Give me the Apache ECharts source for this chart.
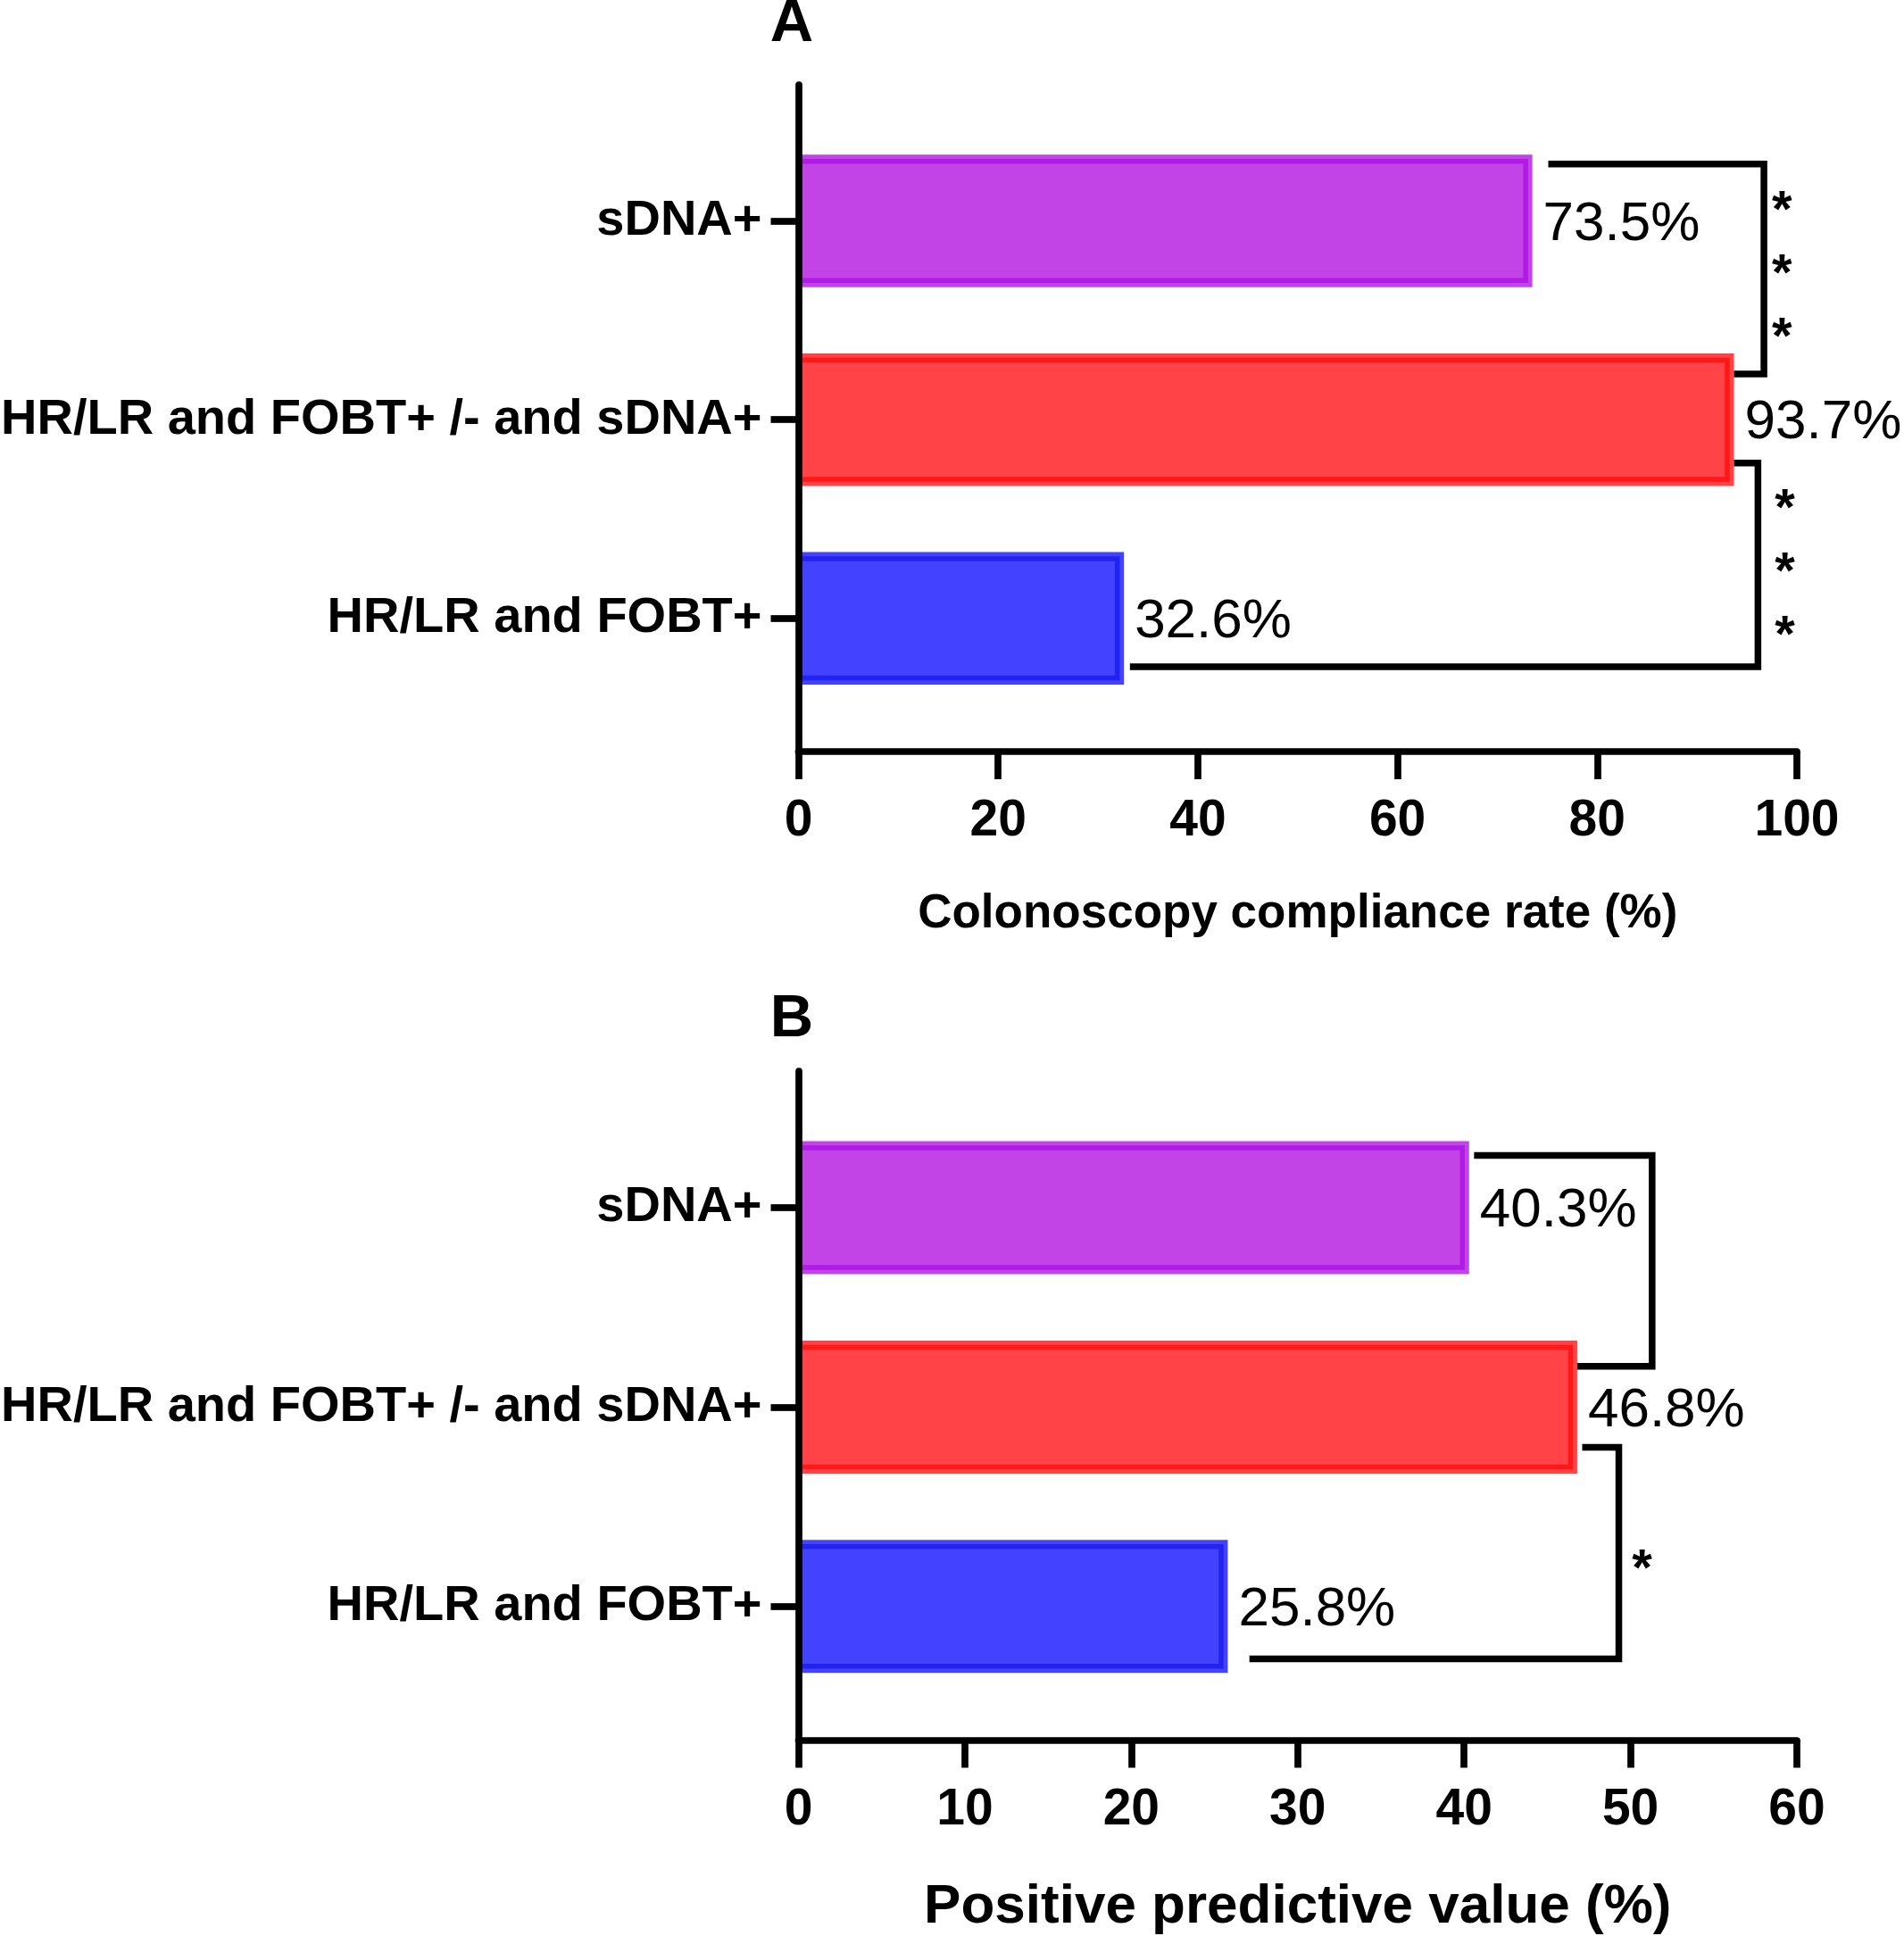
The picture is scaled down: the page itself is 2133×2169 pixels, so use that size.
<!DOCTYPE html>
<html>
<head>
    <meta charset="utf-8">
    <title>Colonoscopy compliance rate and positive predictive value</title>
    <script src="https://cdn.jsdelivr.net/npm/echarts@6/dist/echarts.min.js"></script>
    <style>html, body { margin: 0; padding: 0; background: #fff; }</style>
</head>
<body>
    <div id="chart" style="width: 2133px; height: 2169px;"></div>

    <script>
    // groups, listed top to bottom as in the figure
    const groups = ['sDNA+', 'HR/LR and FOBT+ /- and sDNA+', 'HR/LR and FOBT+'];
    const complianceRate = [73.5, 93.7, 32.6];   // panel A, %
    const ppv = [40.3, 46.8, 25.8];              // panel B, %
    const ticksA = [0, 20, 40, 60, 80, 100];
    const ticksB = [0, 10, 20, 30, 40, 50, 60];

    // significance brackets: [top arm starts at x, bracket x, bottom arm ends at x, top y, bottom y]
    // (y in group positions: 3 = top group, 1 = bottom group)
    const bracketsA = [[75.1, 96.7, 93.7, 3.286, 2.230], [93.7, 96.1, 33.2, 1.782, 0.757]];
    const bracketsB = [[40.6, 51.3, 46.8, 3.262, 2.204], [47.1, 49.3, 27.1, 1.798, 0.737]];
    // asterisks: [x, y of the middle one, how many]
    const starsA = [[98.5, 2.786, 3], [98.8, 1.285, 3]];
    const starsB = [[50.7, 1.236, 1]];

    const fillColors = ['#C244E6', '#FF4347', '#4242FF'];
    const edgeColors = ['#B01BE6', '#FF1818', '#2323F0'];
    const FONT = 'Liberation Sans';
    const BAR_FRAC = 0.667;
    const STAR_SIZE = 58;

    const chart = echarts.init(document.getElementById('chart'));

    function renderBar(params, api) {
        const i = api.value(2);
        const base = api.coord([0, api.value(1)]);
        const tip = api.coord([api.value(0), api.value(1)]);
        const h = api.size([0, BAR_FRAC])[1];
        const top = base[1] - h / 2;
        const inset = 7.5;
        return {
            type: 'group',
            children: [
                { type: 'rect', shape: { x: base[0], y: top, width: tip[0] - base[0], height: h },
                  style: { fill: fillColors[i] } },
                { type: 'polyline',
                  shape: { points: [[base[0], top + inset], [tip[0] - inset, top + inset],
                                    [tip[0] - inset, top + h - inset], [base[0], top + h - inset]] },
                  style: { fill: 'none', stroke: edgeColors[i], lineWidth: 5.5, lineJoin: 'miter' } },
                { type: 'text', x: tip[0] + 12, y: base[1] + 4,
                  style: { text: api.value(0).toFixed(1) + '%', fontFamily: FONT, fontSize: 62,
                           fill: '#000', align: 'left', verticalAlign: 'middle' } }
            ]
        };
    }

    function renderBracket(params, api) {
        const a = api.coord([api.value(0), api.value(3)]);
        const b = api.coord([api.value(1), api.value(3)]);
        const c = api.coord([api.value(1), api.value(4)]);
        const d = api.coord([api.value(2), api.value(4)]);
        return {
            type: 'polyline', shape: { points: [a, b, c, d] },
            style: { fill: 'none', stroke: '#000', lineWidth: 7.5, lineJoin: 'miter' }
        };
    }

    function renderStars(params, api) {
        const p = api.coord([api.value(0), api.value(1)]);
        const text = new Array(api.value(2)).fill('*').join('\n');
        return {
            type: 'text', x: p[0], y: p[1] + STAR_SIZE * 0.23,
            style: { text: text, fontFamily: FONT, fontWeight: 'bold', fontSize: STAR_SIZE, lineHeight: 71,
                     fill: '#000', align: 'center', verticalAlign: 'middle' }
        };
    }

    function makeX(idx, ticks, name, nameSize) {
        return {
            type: 'value', gridIndex: idx,
            min: ticks[0], max: ticks[ticks.length - 1], interval: ticks[1] - ticks[0],
            z: 3,
            name: name, nameLocation: 'middle', nameGap: 156,
            nameTextStyle: { fontFamily: FONT, fontWeight: 'bold', fontSize: nameSize, color: '#000' },
            axisLine: { show: true, lineStyle: { color: '#000', width: 7.7 } },
            axisTick: { show: true, length: 31, lineStyle: { color: '#000', width: 7.7 } },
            axisLabel: { margin: 50, fontFamily: FONT, fontWeight: 'bold', fontSize: 57, color: '#000' },
            splitLine: { show: false }
        };
    }

    function makeY(idx) {
        const pos = groups.map((g, i) => groups.length - i);
        return {
            type: 'value', gridIndex: idx,
            min: 0.33, max: 3.685, z: 3,
            axisLine: { show: true, lineStyle: { color: '#000', width: 7.7 } },
            axisTick: { show: true, length: 31, customValues: pos, lineStyle: { color: '#000', width: 7.7 } },
            axisLabel: {
                customValues: pos, margin: 41, padding: [8, 0, 0, 0],
                fontFamily: FONT, fontWeight: 'bold', fontSize: 56, color: '#000',
                formatter: v => groups[groups.length - Math.round(v)]
            },
            splitLine: { show: false }
        };
    }

    function barData(values) {
        return values.map((v, i) => [v, groups.length - i, i]);
    }

    const option = {
        animation: false,
        backgroundColor: '#fff',
        grid: [
            { left: 894.5, top: 95, width: 1118.5, height: 747, outerBoundsMode: 'none' },
            { left: 894.5, top: 1200, width: 1118.5, height: 749.5, outerBoundsMode: 'none' }
        ],
        xAxis: [
            makeX(0, ticksA, 'Colonoscopy compliance rate (%)', 53),
            makeX(1, ticksB, 'Positive predictive value (%)', 62)
        ],
        yAxis: [makeY(0), makeY(1)],
        series: [
            { type: 'custom', xAxisIndex: 0, yAxisIndex: 0, renderItem: renderBar,
              encode: { x: 0, y: 1 }, data: barData(complianceRate) },
            { type: 'custom', xAxisIndex: 1, yAxisIndex: 1, renderItem: renderBar,
              encode: { x: 0, y: 1 }, data: barData(ppv) },
            { type: 'custom', xAxisIndex: 0, yAxisIndex: 0, renderItem: renderBracket,
              encode: { x: [0, 1, 2], y: [3, 4] }, data: bracketsA },
            { type: 'custom', xAxisIndex: 1, yAxisIndex: 1, renderItem: renderBracket,
              encode: { x: [0, 1, 2], y: [3, 4] }, data: bracketsB },
            { type: 'custom', xAxisIndex: 0, yAxisIndex: 0, renderItem: renderStars,
              encode: { x: 0, y: 1 }, data: starsA },
            { type: 'custom', xAxisIndex: 1, yAxisIndex: 1, renderItem: renderStars,
              encode: { x: 0, y: 1 }, data: starsB }
        ],
        graphic: [
            { type: 'text', x: 887, y: 28,
              style: { text: 'A', fontFamily: FONT, fontWeight: 'bold', fontSize: 67, fill: '#000',
                       align: 'center', verticalAlign: 'middle' } },
            { type: 'text', x: 887, y: 1143,
              style: { text: 'B', fontFamily: FONT, fontWeight: 'bold', fontSize: 67, fill: '#000',
                       align: 'center', verticalAlign: 'middle' } }
        ]
    };

    chart.setOption(option);
    </script>
</body>
</html>
